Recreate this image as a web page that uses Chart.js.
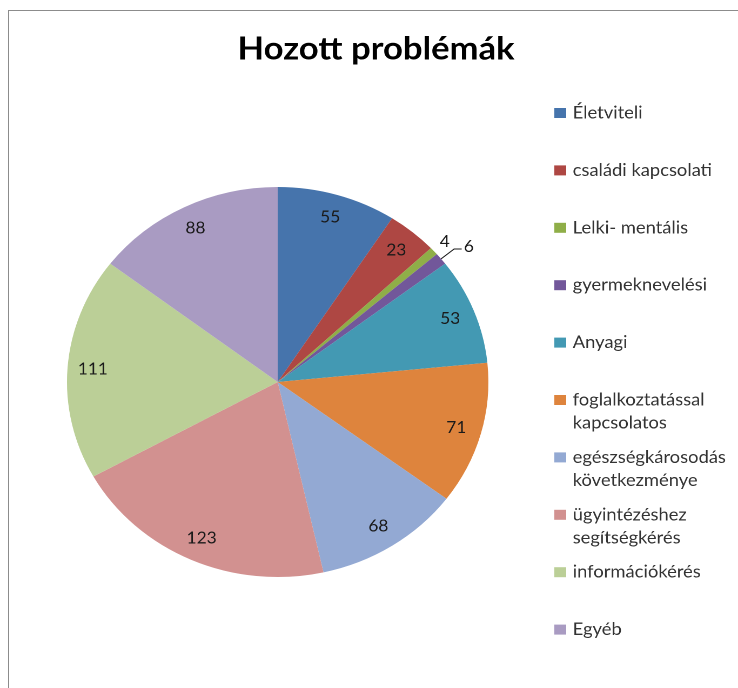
<!DOCTYPE html>
<html>
<head>
<meta charset="utf-8">
<script src="https://cdn.jsdelivr.net/npm/chart.js@4/dist/chart.umd.min.js"></script>
<style>
  html, body { margin: 0; padding: 0; background: #fff; overflow: hidden; }
  #wrap { position: relative; width: 738px; height: 688px; }
  #frame { position: absolute; left: 8px; top: 10px; width: 800px; height: 800px; border: 1px solid #8c8c8c; }
  #pie { position: absolute; left: 0; top: 0; width: 738px; height: 688px; }
</style>
</head>
<body>
<div id="wrap">
  <div id="frame"></div>
  <canvas id="pie" width="683" height="688" style="width:738px;height:688px"></canvas>
</div>
<script>
const chartTitle = 'Hozott problémák';
const categories = ['Életviteli', 'családi kapcsolati', 'Lelki- mentális', 'gyermeknevelési', 'Anyagi',
  'foglalkoztatással kapcsolatos', 'egészségkárosodás következménye', 'ügyintézéshez segítségkérés',
  'információkérés', 'Egyéb'];
const counts = [55, 23, 4, 6, 53, 71, 68, 123, 111, 88];
const colors = ['#4674ac', '#ae4743', '#8fae48', '#72579a', '#4399b3', '#de843d',
  '#93a9d3', '#d29190', '#bbcf97', '#a99bc2'];

// title + legend drawn by hand (legend spacing is fixed, labels wrap)
const decor = {
  id: 'decor',
  afterDraw(chart) {
    const ctx = chart.ctx;
    ctx.save();
    ctx.fillStyle = '#000';
    ctx.font = 'bold 32px Lato';
    ctx.textAlign = 'center';
    ctx.textBaseline = 'middle';
    ctx.fillText(chartTitle, 348, 49);

    ctx.font = '17px Lato';
    ctx.textAlign = 'left';
    categories.forEach((name, i) => {
      const y = 113 + i * 57.4;
      ctx.fillStyle = colors[i];
      ctx.fillRect(513, y - 5, 11, 10);
      ctx.fillStyle = '#333';
      const words = name.split(' ');
      const lines = [];
      let cur = '';
      words.forEach(w => {
        const t = cur ? cur + ' ' + w : w;
        if (cur && ctx.measureText(t).width > 150) { lines.push(cur); cur = w; } else cur = t;
      });
      lines.push(cur);
      lines.forEach((ln, j) => ctx.fillText(ln, 530, y + j * 23));
    });
    ctx.restore();
  }
};

const valueLabels = {
  id: 'valueLabels',
  afterDatasetsDraw(chart, args, opts) {
    const ctx = chart.ctx;
    const meta = chart.getDatasetMeta(0);
    ctx.save();
    ctx.font = '16px Lato';
    ctx.fillStyle = '#1a1a1a';
    ctx.strokeStyle = '#1a1a1a';
    ctx.textBaseline = 'middle';
    meta.data.forEach((arc, i) => {
      const p = arc.getProps(['x', 'y', 'startAngle', 'endAngle', 'outerRadius'], true);
      const mid = (p.startAngle + p.endAngle) / 2;
      const cx = Math.cos(mid), cy = Math.sin(mid);
      const out = opts.outside[i];
      const val = String(chart.data.datasets[0].data[i]);
      if (!out) {
        ctx.textAlign = 'center';
        ctx.fillText(val, p.x + cx * p.outerRadius * 0.88, p.y + cy * p.outerRadius * 0.88);
      } else if (!out.leader) {
        ctx.textAlign = 'center';
        ctx.fillText(val, p.x + cx * p.outerRadius * out.dist, p.y + cy * p.outerRadius * out.dist);
      } else {
        const ex = p.x + cx * p.outerRadius * out.dist, ey = p.y + cy * p.outerRadius * out.dist;
        ctx.lineWidth = 1;
        ctx.beginPath();
        ctx.moveTo(p.x + cx * p.outerRadius, p.y + cy * p.outerRadius);
        ctx.lineTo(ex, ey);
        ctx.lineTo(ex + 7, ey);
        ctx.stroke();
        ctx.textAlign = 'left';
        ctx.fillText(val, ex + 9, ey - 2);
      }
    });
    ctx.restore();
  }
};

new Chart(document.getElementById('pie'), {
  type: 'pie',
  data: {
    labels: categories,
    datasets: [{
      data: counts,
      backgroundColor: colors,
      borderWidth: 0
    }]
  },
  options: {
    responsive: false,
    devicePixelRatio: 2,
    animation: false,
    layout: { padding: { top: 187, bottom: 111, left: 62, right: 231 } },
    plugins: {
      legend: { display: false },
      title: { display: false },
      tooltip: { enabled: false },
      valueLabels: { outside: { 2: { dist: 1.07 }, 3: { dist: 1.08, leader: true } } }
    }
  },
  plugins: [valueLabels, decor]
});
</script>
</body>
</html>
